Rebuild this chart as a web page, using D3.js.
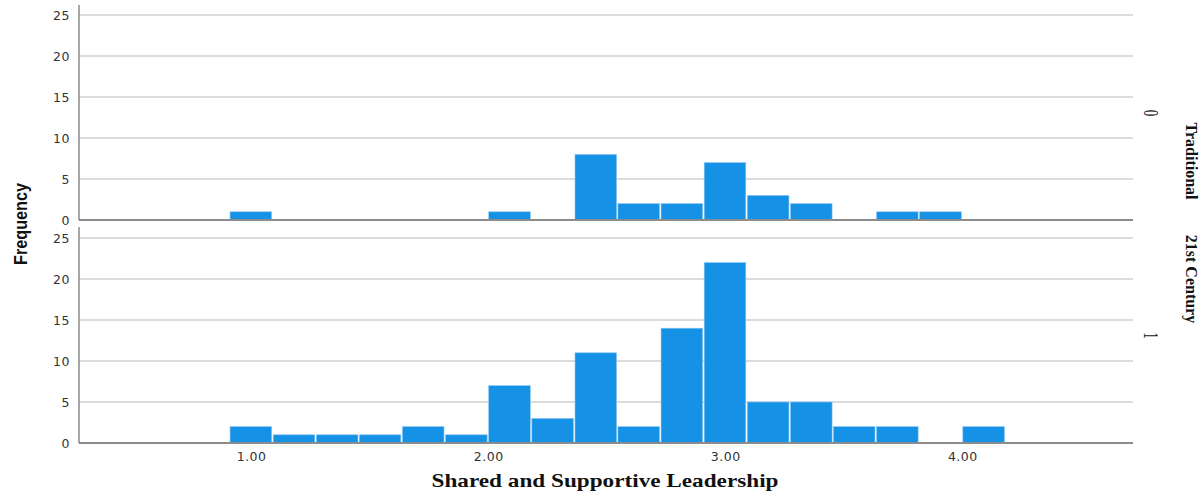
<!DOCTYPE html>
<html>
<head>
<meta charset="utf-8">
<script src="https://cdn.jsdelivr.net/npm/d3@7"></script>
<style>
  html, body { margin: 0; padding: 0; background: #fff; }
  svg { display: block; }
</style>
</head>
<body>
<svg id="chart" width="1201" height="495"></svg>
<script>
// Histogram bins (centres) of the Shared and Supportive Leadership score
const binCenters = [1.000, 1.182, 1.364, 1.545, 1.727, 1.909, 2.091, 2.273, 2.455, 2.636, 2.818, 3.000, 3.182, 3.364, 3.545, 3.727, 3.909, 4.091];
const binWidth = 0.1818;

// Frequencies per bin for each group
const traditionalCounts = [1, 0, 0, 0, 0, 0, 1, 0, 8, 2, 2, 7, 3, 2, 0, 1, 1, 0];
const centuryCounts     = [2, 1, 1, 1, 2, 1, 7, 3, 11, 2, 14, 22, 5, 5, 2, 2, 0, 2];

const panelNames  = ["Traditional", "21st Century"];
const panelCodes  = ["0", "1"];
const yTicks = [0, 5, 10, 15, 20, 25];
const xTicks = [1, 2, 3, 4];

const svg = d3.select("#chart");
const left = 79, right = 1133;
const panels = [
  { top: 15, bottom: 220, axisTop: 5, counts: traditionalCounts },
  { top: 238, bottom: 443, axisTop: 227, counts: centuryCounts }
];

const x = d3.scaleLinear().domain([0.274, 4.72]).range([left, right]);
const barColor = "#1591e6";

panels.forEach((p, i) => {
  const y = d3.scaleLinear().domain([0, 25]).range([p.bottom, p.top]);
  const g = svg.append("g");

  // gridlines
  g.selectAll("line.grid").data(yTicks.filter(t => t > 0)).join("line")
    .attr("x1", left).attr("x2", right)
    .attr("y1", d => y(d)).attr("y2", d => y(d))
    .attr("stroke", "#d0d0d0").attr("stroke-width", 1.5);

  // bars
  const bins = binCenters.map((c, k) => ({ c, v: p.counts[k] })).filter(d => d.v > 0);
  g.selectAll("rect.bar").data(bins).join("rect")
    .attr("x", d => x(d.c - binWidth / 2) + 0.5)
    .attr("width", d => x(d.c + binWidth / 2) - x(d.c - binWidth / 2) - 1.5)
    .attr("y", d => y(d.v))
    .attr("height", d => y(0) - y(d.v))
    .attr("fill", barColor)
    .attr("stroke", "#8cc6f2").attr("stroke-width", 0.6);

  // baseline
  g.append("line")
    .attr("x1", left).attr("x2", right)
    .attr("y1", y(0)).attr("y2", y(0))
    .attr("stroke", "#8c8c8c").attr("stroke-width", 2);

  // y axis
  const yAxis = d3.axisLeft(y).tickValues(yTicks).tickSize(0).tickPadding(9);
  const ya = g.append("g").attr("transform", `translate(${left},0)`).call(yAxis);
  ya.select(".domain").remove();
  ya.selectAll("text")
    .attr("font-family", "DejaVu Sans, sans-serif")
    .attr("font-size", 12.5).attr("fill", "#333")
    .attr("letter-spacing", "0.5px");
  g.append("line")
    .attr("x1", left).attr("x2", left)
    .attr("y1", p.axisTop).attr("y2", p.bottom)
    .attr("stroke", "#6e6e6e").attr("stroke-width", 1.2);

  // panel code on the right (tall, narrow glyph)
  const midY = (p.axisTop + p.bottom) / 2 + 0.5;
  svg.append("text")
    .attr("transform", `translate(1144,${midY}) rotate(90)`)
    .attr("text-anchor", "middle")
    .attr("font-family", "Liberation Serif, serif")
    .attr("font-size", 20).attr("fill", "#111")
    .attr("textLength", 6.5).attr("lengthAdjust", "spacingAndGlyphs")
    .text(panelCodes[i]);
});

// group names on the far right
svg.append("text")
  .attr("transform", "translate(1186,161) rotate(90)")
  .attr("text-anchor", "middle")
  .attr("font-family", "Liberation Serif, serif")
  .attr("font-weight", "bold")
  .attr("font-size", 16).attr("fill", "#111")
  .text(panelNames[0]);
svg.append("text")
  .attr("transform", "translate(1186,279) rotate(90)")
  .attr("text-anchor", "middle")
  .attr("font-family", "Liberation Serif, serif")
  .attr("font-weight", "bold")
  .attr("font-size", 16).attr("fill", "#111")
  .text(panelNames[1]);

// x axis
const xAxis = d3.axisBottom(x).tickValues(xTicks).tickFormat(d3.format(".2f")).tickSize(0).tickPadding(9);
const xa = svg.append("g").attr("transform", "translate(0,443)").call(xAxis);
xa.select(".domain").remove();
xa.selectAll("text")
  .attr("font-family", "DejaVu Sans, sans-serif")
  .attr("font-size", 12.5).attr("fill", "#333")
  .attr("letter-spacing", "0.5px");

// axis titles
svg.append("text")
  .attr("x", 605).attr("y", 487)
  .attr("text-anchor", "middle")
  .attr("font-family", "Liberation Serif, serif")
  .attr("font-weight", "bold")
  .attr("font-size", 19).attr("fill", "#111")
  .attr("textLength", 347).attr("lengthAdjust", "spacingAndGlyphs")
  .text("Shared and Supportive Leadership");

svg.append("text")
  .attr("transform", "translate(27,224) rotate(-90)")
  .attr("text-anchor", "middle")
  .attr("font-family", "Liberation Sans Narrow, Liberation Sans, sans-serif")
  .attr("font-weight", "bold")
  .attr("font-size", 19).attr("fill", "#111")
  .attr("textLength", 82).attr("lengthAdjust", "spacingAndGlyphs")
  .text("Frequency");
</script>
</body>
</html>
